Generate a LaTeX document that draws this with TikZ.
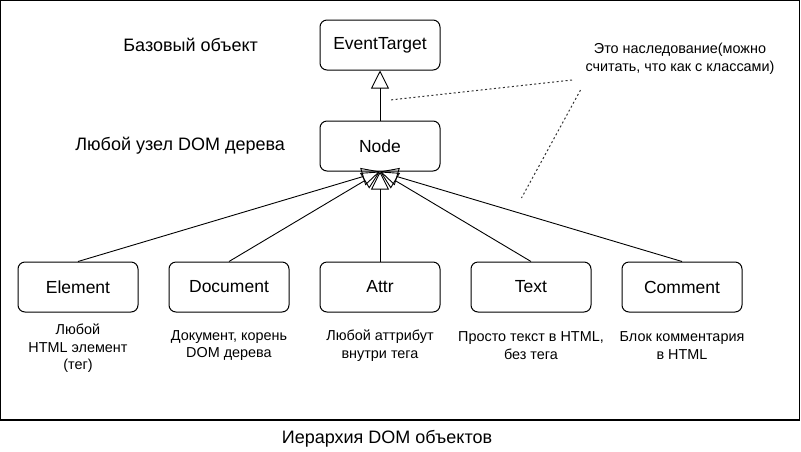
\documentclass[tikz,border=0pt]{standalone}
\usepackage{fontspec}
\setmainfont{Liberation Sans}
\usetikzlibrary{positioning,arrows.meta}

\begin{document}
\begin{tikzpicture}[
        x=1pt, y=-1pt,
        node distance=50pt and 30pt,
        box/.style={rectangle, draw, line width=1pt, rounded corners=7pt, minimum width=120pt, minimum height=50pt, align=center, font=\fontsize{17.5}{20}\selectfont},
        side/.style={font=\fontsize{18}{21}\selectfont},
        lbl/.style={align=center, font=\fontsize{14.4}{17.5}\selectfont},
        inh/.style={-{Triangle[open, length=18pt, width=18pt]}, line width=0.9pt},
        hint/.style={line width=1pt, dash pattern=on 2pt off 2.5pt, black!80},
    ]
    \useasboundingbox (0,0) rectangle (801,451);
    \draw[line width=1.2pt] (0.6,0.6) rectangle (799.4,420);

    % hierarchy boxes
    \node[box] (et) at (380,45) {EventTarget};
    \node[box, below=50pt of et] (node) {Node};
    \node[box, below=90pt of node] (attr) {Attr};
    \node[box, left=of attr] (doc) {Document};
    \node[box, left=of doc] (elem) {Element};
    \node[box, right=of attr] (text) {Text};
    \node[box, right=of text] (comm) {Comment};

    % inheritance arrows
    \draw[inh] (node) -- (et);
    \foreach \n in {elem,doc,attr,text,comm}
        \draw[inh] (\n.north) -- (node.south);

    % side captions
    \node[side, left=58pt of et] (base) {Базовый объект};
    \node[side, left=31pt of node] (any) {Любой узел DOM дерева};

    % descriptions under the boxes
    \node[lbl] (elemtxt) at ([yshift=-36pt]elem.south) {Любой\\HTML элемент\\(тег)};
    \node[lbl] (doctxt) at ([yshift=-33pt]doc.south) {Документ, корень\\DOM дерева};
    \node[lbl] (attrtxt) at ([yshift=-33pt]attr.south) {Любой аттрибут\\внутри тега};
    \node[lbl] (texttxt) at ([yshift=-33pt]text.south) {Просто текст в HTML,\\без тега};
    \node[lbl] (commtxt) at ([yshift=-33pt]comm.south) {Блок комментария\\в HTML};

    % note about inheritance
    \node[lbl] (note) at (680,59) {Это наследование(можно\\считать, что как с классами)};
    \coordinate (h1) at (572,80);
    \coordinate (h2) at (390,100);
    \coordinate (h3) at (580.5,90);
    \coordinate (h4) at (521.5,198);
    \draw[hint] (h1) -- (h2);
    \draw[hint] (h3) -- (h4);

    % caption
    \node[side] (title) at (387,439) {Иерархия DOM объектов};
\end{tikzpicture}
\end{document}
